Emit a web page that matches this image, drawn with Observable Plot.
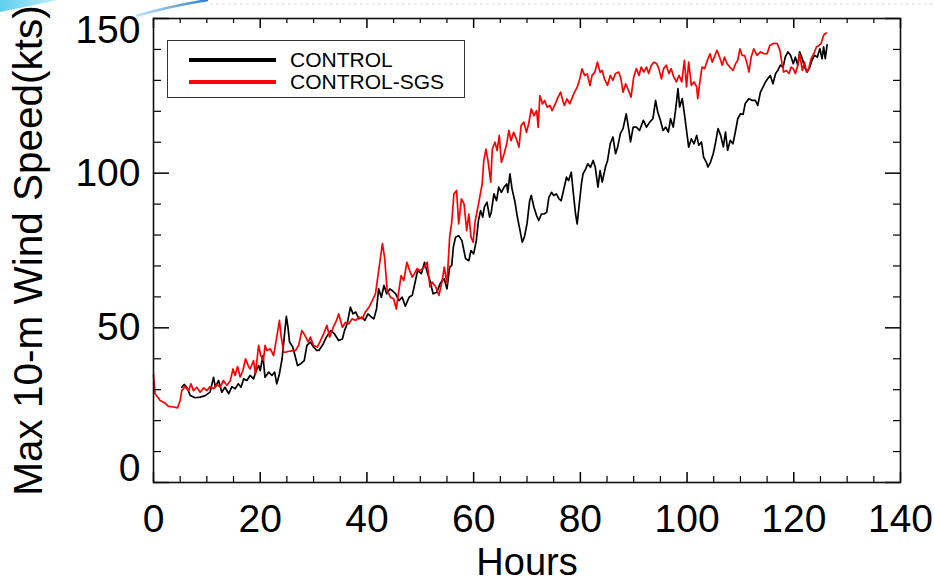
<!DOCTYPE html>
<html>
<head>
<meta charset="utf-8">
<script src="https://cdn.jsdelivr.net/npm/d3@7"></script>
<script src="https://cdn.jsdelivr.net/npm/@observablehq/plot@0.6"></script>
<style>
html, body { margin: 0; padding: 0; background: #fff; }
#wrap { position: relative; width: 934px; height: 582px; overflow: hidden; font-family: "Liberation Sans", Arial, sans-serif; }
#wrap svg.chart { position: absolute; left: 0; top: 0; }
#deco { position: absolute; left: 0; top: 0; }
#legend { position: absolute; left: 167px; top: 40px; width: 298px; height: 58px; border: 1px solid #333; box-sizing: border-box; background: #fff; }
.item { position: absolute; left: 0; height: 22px; display: flex; align-items: center; }
.sw { width: 87px; height: 4px; margin-left: 21px; }
.lab { margin-left: 14px; font-size: 21px; color: #000; white-space: nowrap; }
</style>
</head>
<body>
<div id="wrap"></div>
<script>
// ---- data (hours, max 10-m wind speed in kts) ----
const seriesNames = ["CONTROL", "CONTROL-SGS"];
const seriesColors = ["#000000", "#ff0000"];

const controlPoints = [
[5.3,30.8],[5.75,31.7],[6.25,30.8],[6.9,28.1],[7.8,27.4],[8.75,27.6],[9.7,28.1],[10.6,29.2],[11.25,34.0],[11.6,30.8],
[12.2,33.0],[12.8,29.2],[13.4,30.8],[14.1,28.7],[14.7,31.0],[15.3,30.3],[15.9,31.9],[16.4,30.8],[16.9,33.5],[17.5,33.0],
[18.1,34.6],[18.75,33.5],[19.25,36.2],[19.7,37.8],[20.0,36.2],[20.5,41.0],[20.9,34.0],[21.6,35.7],[22.2,34.6],[22.7,35.7],
[23.1,31.9],[23.6,35.1],[24.1,40.0],[24.5,47.0],[24.9,53.7],[25.2,50.2],[25.5,45.4],[26.1,43.8],[26.6,40.5],[27.0,37.8],
[27.6,38.4],[28.25,39.4],[28.75,44.3],[29.4,45.4],[30.0,43.8],[30.6,42.7],[31.0,42.7],[31.8,44.8],[32.4,47.0],[33.2,49.1],
[33.9,48.1],[34.7,45.9],[35.4,46.4],[35.8,49.1],[36.3,51.3],[36.9,56.7],[37.4,54.5],[37.9,55.1],[38.5,52.9],[39.1,53.5],
[39.6,52.4],[40.2,54.5],[40.8,53.5],[41.3,52.9],[41.8,56.1],[42.2,62.6],[42.7,59.9],[43.2,63.7],[43.7,61.0],[44.3,62.6],
[44.7,62.1],[45.4,61.0],[46.0,58.8],[46.6,59.9],[47.2,57.0],[47.9,59.9],[48.5,60.5],[49.1,65.3],[49.5,68.5],[50.2,67.5],
[50.8,71.2],[51.3,68.0],[51.8,65.3],[52.4,61.0],[53.1,61.5],[53.7,64.2],[54.1,65.3],[54.5,65.8],[55.0,62.6],[55.5,69.6],
[55.9,70.2],[56.2,76.1],[56.6,79.3],[57.2,79.8],[57.8,78.2],[58.5,72.3],[59.1,71.7],[59.5,75.0],[60.0,73.9],[60.5,78.2],
[60.9,84.7],[61.3,87.9],[61.7,85.8],[62.0,89.0],[62.5,90.6],[63.0,85.8],[63.3,87.4],[63.8,93.3],[64.3,91.1],[64.7,95.5],
[65.2,93.8],[65.7,95.5],[66.2,96.5],[66.4,93.8],[66.8,99.8],[67.2,94.9],[67.7,91.1],[68.2,85.8],[68.7,81.4],[69.1,77.7],
[69.5,79.3],[70.0,83.6],[70.5,91.1],[70.8,92.8],[71.3,89.0],[71.8,86.3],[72.2,84.7],[72.7,86.8],[73.2,86.8],[73.7,87.4],
[74.1,92.2],[74.6,93.8],[75.0,92.8],[75.5,93.3],[76.0,91.7],[76.4,91.1],[76.9,94.9],[77.4,98.7],[77.8,97.6],[78.3,100.3],
[78.7,93.3],[79.1,86.8],[79.4,83.6],[79.8,90.1],[80.2,96.5],[80.5,99.8],[81.0,101.4],[81.4,103.0],[81.9,101.9],[82.4,104.1],
[82.8,101.9],[83.3,95.5],[83.7,100.8],[84.1,97.1],[84.7,102.0],[85.1,104.1],[85.6,109.5],[86.1,111.7],[86.6,106.3],[87.0,108.5],
[87.5,112.8],[88.0,114.4],[88.6,119.2],[89.1,113.8],[89.4,110.1],[89.9,114.9],[90.5,114.9],[91.1,113.8],[91.8,117.1],[92.4,114.9],
[93.0,116.5],[93.6,117.6],[94.1,123.5],[94.5,119.8],[95.0,117.1],[95.5,113.8],[96.0,114.9],[96.5,113.3],[96.9,117.6],[97.4,114.9],
[97.8,119.8],[98.3,127.3],[98.6,121.4],[99.1,124.1],[99.5,119.2],[99.9,113.8],[100.3,108.4],[100.8,111.1],[101.3,109.5],[101.8,112.2],
[102.2,109.0],[102.7,110.1],[103.1,105.2],[103.6,103.6],[103.9,102.0],[104.4,103.6],[104.9,106.3],[105.3,109.5],[105.8,114.4],[106.3,112.2],
[106.8,108.5],[107.2,113.3],[107.6,107.4],[108.1,110.6],[108.6,109.5],[109.1,113.8],[109.5,117.6],[110.0,119.2],[110.5,119.0],[110.9,122.5],
[111.6,124.1],[112.2,123.5],[112.8,123.5],[113.25,121.9],[113.75,126.2],[114.25,127.9],[114.7,129.5],[115.1,130.5],[115.6,131.6],[116.1,128.9],
[116.6,132.2],[117.0,133.2],[117.5,134.9],[118.0,134.3],[118.4,137.5],[118.9,139.2],[119.4,138.1],[119.9,135.4],[120.3,137.5],[120.75,134.9],
[121.1,139.2],[121.6,137.0],[122.0,134.3],[122.5,132.7],[123.0,134.3],[123.4,136.5],[123.9,138.1],[124.4,137.5],[124.9,140.2],[125.3,137.0],
[125.6,140.8],[125.9,137.0],[126.25,141.5]
];

const sgsPoints = [
[0,34.8],[0.3,28.7],[1.25,26.5],[2.2,25.6],[2.8,24.6],[3.75,24.4],[4.5,24.1],[5.0,26.5],[5.3,29.7],[5.9,31.0],
[6.6,29.7],[7.0,31.9],[7.5,29.7],[8.1,30.8],[8.75,29.2],[9.4,30.6],[10.0,29.7],[10.6,31.0],[11.25,30.3],[11.9,31.7],
[12.5,30.8],[13.1,33.0],[13.75,31.4],[14.4,33.0],[14.9,36.7],[15.3,34.6],[15.75,37.5],[16.25,34.1],[16.75,36.2],[17.25,40.0],
[17.75,37.8],[18.1,36.7],[18.75,39.4],[19.1,35.1],[19.7,44.3],[20.1,41.0],[20.6,39.4],[20.9,44.3],[21.25,42.7],[21.9,43.2],
[22.5,41.0],[23.1,47.0],[23.6,52.4],[23.9,47.5],[24.4,42.1],[24.7,42.1],[25.6,42.5],[26.6,42.7],[27.2,44.3],[27.8,49.1],
[28.4,47.5],[29.0,45.4],[29.4,47.0],[30.0,44.3],[30.7,43.8],[31.3,45.9],[31.9,48.1],[32.5,50.8],[33.0,47.0],[33.7,50.2],
[34.3,52.4],[34.7,54.5],[35.4,50.2],[36.0,51.8],[36.6,51.3],[37.2,52.9],[37.9,52.4],[38.5,53.5],[39.1,52.9],[39.7,55.1],
[40.4,56.7],[41.0,58.8],[41.6,61.0],[42.2,68.5],[42.9,77.2],[43.3,72.9],[43.8,62.0],[44.4,59.9],[45.0,59.4],[45.5,56.1],
[45.9,61.0],[46.4,66.9],[46.9,65.3],[47.5,71.2],[48.0,68.5],[48.5,66.4],[48.9,67.5],[49.4,69.1],[50.0,68.5],[50.7,69.6],
[51.3,71.2],[51.8,63.2],[52.2,64.8],[52.9,63.2],[53.5,60.5],[54.1,65.3],[54.5,69.6],[55.0,64.2],[55.5,79.3],[55.9,84.2],
[56.3,93.3],[56.8,94.4],[57.2,83.6],[57.7,91.7],[58.2,90.1],[58.7,81.4],[59.1,86.8],[59.5,79.3],[59.9,77.7],[60.3,84.7],
[60.8,89.0],[61.2,92.8],[61.6,96.5],[61.9,104.0],[62.3,107.8],[62.7,104.0],[63.2,97.1],[63.5,107.8],[64.0,110.0],[64.4,107.3],
[64.8,112.2],[65.2,103.5],[65.7,106.2],[66.2,109.5],[66.6,113.8],[67.0,110.5],[67.5,113.2],[68.0,111.1],[68.5,108.4],[68.9,115.4],
[69.4,116.5],[69.9,113.2],[70.3,115.9],[70.8,120.8],[71.3,118.6],[71.8,120.2],[72.1,114.8],[72.4,125.1],[72.9,122.4],[73.3,123.5],
[73.8,121.3],[74.3,121.9],[74.7,120.2],[75.3,122.4],[75.8,124.5],[76.3,126.2],[76.7,123.5],[77.0,121.9],[77.5,124.0],[78.0,122.4],
[78.5,124.5],[78.9,126.2],[79.4,127.8],[79.9,130.5],[80.3,133.7],[80.8,131.6],[81.3,132.1],[81.8,128.3],[82.2,131.6],[82.7,132.6],
[83.2,135.9],[83.7,132.6],[84.1,133.2],[84.5,130.5],[85.1,128.4],[85.6,131.6],[86.1,130.0],[86.6,132.2],[87.2,132.7],[87.6,130.5],
[88.0,126.2],[88.5,128.9],[88.9,127.3],[89.5,124.6],[90.0,131.1],[90.5,133.8],[91.0,131.6],[91.4,134.3],[91.9,132.7],[92.4,134.3],
[92.8,132.2],[93.3,134.9],[93.8,135.9],[94.3,135.4],[94.7,133.8],[95.2,130.5],[95.6,133.8],[96.1,134.9],[96.6,132.2],[97.0,133.8],
[97.5,131.1],[98.0,129.5],[98.5,131.6],[99.0,129.5],[99.5,136.5],[99.9,127.9],[100.3,135.9],[100.8,128.4],[101.3,129.5],[101.8,127.9],
[102.0,124.1],[102.4,129.5],[102.8,134.3],[103.3,133.8],[103.8,136.5],[104.3,138.6],[104.7,135.9],[105.1,137.5],[105.6,139.7],[106.1,137.5],
[106.6,134.9],[107.0,137.5],[107.5,135.4],[108.0,134.3],[108.6,133.2],[109.1,135.4],[109.5,136.5],[109.9,140.2],[110.3,138.1],[110.8,138.0],
[111.25,135.4],[111.6,132.7],[112.0,137.5],[112.5,140.2],[113.1,138.1],[113.75,139.2],[114.4,138.6],[115.0,138.6],[115.5,141.3],[116.25,142.0],
[116.9,141.9],[117.4,139.7],[117.8,135.4],[118.1,132.7],[118.6,133.2],[119.1,132.2],[119.5,134.3],[119.9,133.8],[120.3,132.2],[120.75,134.9],
[121.1,138.6],[121.6,133.2],[122.0,135.9],[122.4,132.7],[122.8,133.8],[123.25,137.0],[123.75,138.6],[124.25,140.8],[124.7,141.3],[125.1,141.9],
[125.6,144.6],[125.9,145.1],[126.1,145.3]
];

const xMajorTicks = [0, 20, 40, 60, 80, 100, 120, 140];
const xMinorTicks = [5, 10, 15, 25, 30, 35, 45, 50, 55, 65, 70, 75, 85, 90, 95, 105, 110, 115, 125, 130, 135];
const yMajorTicks = [0, 50, 100, 150];
const yMinorTicks = [10, 20, 30, 40, 60, 70, 80, 90, 110, 120, 130, 140];
const yLabelsMid = [50, 100];
const yLabelBottom = [0];
const yLabelTop = [150];
const xTitle = "Hours";
const yTitle = "Max 10-m Wind Speed(kts)";

// ---- build tables ----
const toRows = (pts, name) => pts.map(([h, v]) => ({hour: h, speed: v, series: name}));
const controlRows = toRows(controlPoints, seriesNames[0]);
const sgsRows = toRows(sgsPoints, seriesNames[1]);

const FONT = "Liberation Sans, Arial, sans-serif";
const innerW = 934 - 153 - 34;
const innerH = 582 - 18 - 100;

const chart = Plot.plot({
  width: 934,
  height: 582,
  marginLeft: 153,
  marginRight: 34,
  marginTop: 18,
  marginBottom: 100,
  x: {domain: [0, 140], label: null},
  y: {domain: [0, 150], label: null},
  style: {fontFamily: FONT, background: "transparent", color: "#000", overflow: "visible"},
  marks: [
    Plot.line(controlRows, {x: "hour", y: "speed", stroke: seriesColors[0], strokeWidth: 1.7}),
    Plot.line(sgsRows, {x: "hour", y: "speed", stroke: seriesColors[1], strokeWidth: 1.7}),
    // inward ticks: bottom, top, left, right
    Plot.tickX(xMajorTicks, {x: d => d, insetTop: innerH - 10, stroke: "#000", strokeWidth: 1.5}),
    Plot.tickX(xMinorTicks, {x: d => d, insetTop: innerH - 6, stroke: "#000", strokeWidth: 1.2}),
    Plot.tickX(xMajorTicks, {x: d => d, insetBottom: innerH - 10, stroke: "#000", strokeWidth: 1.5}),
    Plot.tickX(xMinorTicks, {x: d => d, insetBottom: innerH - 5, stroke: "#000", strokeWidth: 1.2}),
    Plot.tickY(yMajorTicks, {y: d => d, insetRight: innerW - 16, stroke: "#000", strokeWidth: 1.5}),
    Plot.tickY(yMinorTicks, {y: d => d, insetRight: innerW - 8, stroke: "#000", strokeWidth: 1.2}),
    Plot.tickY(yMajorTicks, {y: d => d, insetLeft: innerW - 15, stroke: "#000", strokeWidth: 1.5}),
    Plot.tickY(yMinorTicks, {y: d => d, insetLeft: innerW - 7, stroke: "#000", strokeWidth: 1.2}),
    Plot.frame({stroke: "#111", strokeWidth: 1.6}),
    // tick labels
    Plot.axisX(xMajorTicks, {tickSize: 0, tickPadding: 22, fontSize: 39, label: null, tickFormat: d => String(d)}),
    Plot.axisY(yLabelsMid, {tickSize: 0, tickPadding: 13, fontSize: 39, label: null, tickFormat: d => String(d)}),
    Plot.axisY(yLabelBottom, {tickSize: 0, tickPadding: 13, fontSize: 39, label: null, dy: -14, tickFormat: d => String(d)}),
    Plot.axisY(yLabelTop, {tickSize: 0, tickPadding: 13, fontSize: 39, label: null, dy: 12, tickFormat: d => String(d)}),
    // titles
    Plot.text([xTitle], {text: d => d, frameAnchor: "bottom", textAnchor: "middle", lineAnchor: "bottom", dy: 92, fontSize: 38, fill: "#000"}),
    Plot.text([yTitle], {text: d => d, frameAnchor: "left", textAnchor: "middle", rotate: -90, lineAnchor: "middle", dx: -124, dy: 0, fontSize: 40.5, fill: "#000"})
  ]
});
chart.classList.add("chart");

const wrap = document.getElementById("wrap");
wrap.appendChild(chart);

// slide decoration at top-left
const ns = "http://www.w3.org/2000/svg";
const deco = document.createElementNS(ns, "svg");
deco.setAttribute("id", "deco");
deco.setAttribute("width", "934");
deco.setAttribute("height", "16");
deco.innerHTML = `
  <defs>
    <linearGradient id="gc" x1="0" x2="1" y1="0" y2="0">
      <stop offset="0" stop-color="#5fd0ee"/><stop offset="1" stop-color="#bfeefa"/>
    </linearGradient>
    <linearGradient id="gb" x1="0" x2="1" y1="0" y2="0">
      <stop offset="0" stop-color="#bfe4f6"/><stop offset="1" stop-color="#2f7fcf"/>
    </linearGradient>
  </defs>
  <path d="M0,0 L58,0 Q30,6 0,12 Z" fill="url(#gc)"/>
  <path d="M136,16 Q170,6 208,0" stroke="url(#gb)" stroke-width="2.5" fill="none"/>
  <line x1="210" y1="4" x2="934" y2="4" stroke="#e6e6e6" stroke-width="1.5" stroke-dasharray="3,3"/>`;
wrap.appendChild(deco);

// legend
const legend = document.createElement("div");
legend.id = "legend";
seriesNames.forEach((name, i) => {
  const item = document.createElement("div");
  item.className = "item";
  item.style.top = (8 + i * 22) + "px";
  const sw = document.createElement("div");
  sw.className = "sw";
  sw.style.background = seriesColors[i];
  const lab = document.createElement("div");
  lab.className = "lab";
  lab.textContent = name;
  item.appendChild(sw);
  item.appendChild(lab);
  legend.appendChild(item);
});
wrap.appendChild(legend);
</script>
</body>
</html>
